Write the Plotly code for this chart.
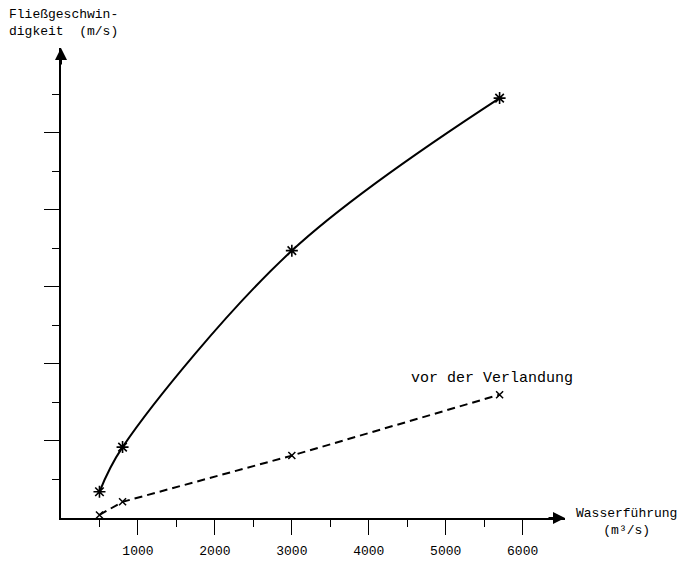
import plotly.graph_objects as go

# Data
abfluss = [500, 800, 3000, 5700]                 # Wasserführung (m³/s)
v_nach = [0.34, 0.92, 3.47, 5.45]                # solid curve (m/s)
v_vor = [0.04, 0.21, 0.81, 1.60]                 # dashed "vor der Verlandung"
x_major = [1000, 2000, 3000, 4000, 5000, 6000]
x_minor = [500, 1500, 2500, 3500, 4500, 5500]
y_major = [1, 2, 3, 4, 5]
y_minor = [0.5, 1.5, 2.5, 3.5, 4.5, 5.5]

FONT = "Liberation Mono"
L, R, T, B = 61, 114, 48, 44
W, H = 679, 562
pw, ph = W - L - R, H - T - B
BOTTOM = H - B

def px(xp):
    return (xp - L) / pw

def py(yp):
    return (BOTTOM - yp) / ph

fig = go.Figure()
fig.add_trace(go.Scatter(
    x=abfluss, y=v_nach, mode="lines+markers",
    line=dict(color="black", width=2, shape="spline", smoothing=1.0),
    marker=dict(symbol="asterisk", size=10, color="black",
                line=dict(color="black", width=1.6)),
    showlegend=False, cliponaxis=False))
fig.add_trace(go.Scatter(
    x=abfluss, y=v_vor, mode="lines+markers",
    line=dict(color="black", width=2, dash="8px,5px"),
    marker=dict(symbol="x-thin", size=7, color="black",
                line=dict(color="black", width=1.5)),
    showlegend=False, cliponaxis=False))

fig.update_layout(
    width=W, height=H,
    margin=dict(l=L, r=R, t=T, b=B, pad=0, autoexpand=False),
    paper_bgcolor="white", plot_bgcolor="white",
    font=dict(family=FONT, size=13, color="black"),
    xaxis=dict(range=[0, 6550], showgrid=False, zeroline=False,
               automargin=False,
               showline=True, linecolor="black", linewidth=2,
               ticks="outside", ticklen=15, tickwidth=1.3, tickcolor="black",
               tickvals=x_major, ticktext=[str(v) for v in x_major],
               ticklabelstandoff=4,
               tickfont=dict(family=FONT, size=13, color="black"),
               minor=dict(tickvals=x_minor, ticks="outside", ticklen=7,
                          tickwidth=1.3, tickcolor="black", showgrid=False)),
    yaxis=dict(range=[0, 6.1], showgrid=False, zeroline=False,
               automargin=False,
               showline=True, linecolor="black", linewidth=2,
               ticks="outside", ticklen=15, tickwidth=1.3, tickcolor="black",
               tickvals=y_major, showticklabels=False,
               minor=dict(tickvals=y_minor, ticks="outside", ticklen=7,
                          tickwidth=1.3, tickcolor="black", showgrid=False)),
    annotations=[
        dict(xref="paper", yref="paper", x=1, y=0, ax=-18, ay=0,
             text="", showarrow=True, arrowhead=2, arrowsize=1.2,
             arrowwidth=2, arrowcolor="black"),
        dict(xref="paper", yref="paper", x=0, y=1, ax=0, ay=18,
             text="", showarrow=True, arrowhead=2, arrowsize=1.2,
             arrowwidth=2, arrowcolor="black"),
        dict(xref="paper", yref="paper", x=px(7), y=py(5),
             xanchor="left", yanchor="top", align="left", showarrow=False,
             text="Fließgeschwin-<br>digkeit  (m/s)",
             font=dict(family=FONT, size=13, color="black")),
        dict(xref="paper", yref="paper", x=px(626), y=py(522),
             xanchor="center", yanchor="middle", align="center", showarrow=False,
             text="Wasserführung<br>(m³/s)",
             font=dict(family=FONT, size=13, color="black")),
        dict(xref="paper", yref="paper", x=px(492), y=py(378),
             xanchor="center", yanchor="middle", showarrow=False,
             text="vor der Verlandung",
             font=dict(family=FONT, size=15, color="black")),
    ],
)

fig.write_html(
    "out.html",
    config={"displayModeBar": False},
    post_script="document.body.style.margin='0';document.body.style.padding='0';",
)
